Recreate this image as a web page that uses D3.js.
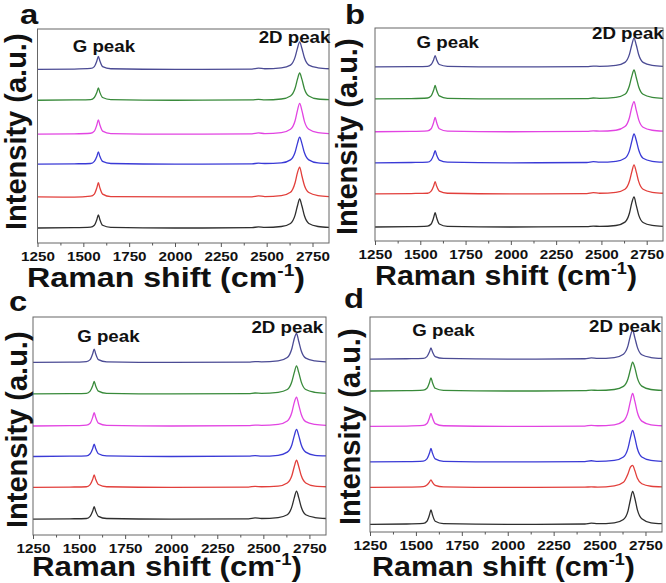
<!DOCTYPE html>
<html>
<head>
<meta charset="utf-8">
<script src="https://cdn.jsdelivr.net/npm/d3@7"></script>
<style>
  body { margin: 0; background: #fff; }
  svg { display: block; font-family: 'Liberation Sans', Arial, sans-serif; }
</style>
</head>
<body>
<svg id="chart" width="666" height="583"></svg>
<script>
// Raman shift sample points (cm-1), shared by every spectrum
const SHIFTS = [1250, 1450, 1540, 1560, 1574, 1582, 1590, 1605, 1650, 2000, 2420, 2455, 2490,
  2580, 2630, 2655, 2668, 2680, 2692, 2706, 2730, 2780, 2840];

const MAJOR_TICKS = [1250, 1500, 1750, 2000, 2250, 2500, 2750];
const MINOR_TICKS = [1375, 1625, 1875, 2125, 2375, 2625];

// bottom -> top: black, red, blue, magenta, green, navy
const COLORS = ['#2e2e2e', '#e23f3b', '#3a3ad6', '#e244e2', '#388a3a', '#4b4b94'];

// intensities (a.u.), one row per spectrum, bottom to top
const panelA = [
  [0.00, 0.01, 0.03, 0.09, 0.28, 0.43, 0.28, 0.09, 0.02, 0.00, 0.01, 0.04, 0.02, 0.05, 0.15, 0.42, 0.73, 0.95, 0.73, 0.40, 0.15, 0.05, 0.02],
  [0.01, 0.00, 0.03, 0.10, 0.31, 0.47, 0.31, 0.10, 0.02, 0.01, 0.01, 0.04, 0.02, 0.05, 0.16, 0.47, 0.80, 0.98, 0.70, 0.38, 0.15, 0.05, 0.02],
  [0.00, 0.01, 0.02, 0.09, 0.26, 0.40, 0.26, 0.09, 0.02, 0.00, 0.01, 0.03, 0.02, 0.04, 0.14, 0.39, 0.68, 0.88, 0.68, 0.37, 0.14, 0.04, 0.02],
  [0.00, 0.01, 0.03, 0.10, 0.31, 0.47, 0.31, 0.10, 0.02, 0.00, 0.01, 0.04, 0.02, 0.05, 0.16, 0.44, 0.78, 1.01, 0.78, 0.42, 0.16, 0.05, 0.02],
  [0.00, 0.01, 0.02, 0.09, 0.26, 0.40, 0.26, 0.09, 0.02, 0.00, 0.01, 0.03, 0.01, 0.04, 0.14, 0.39, 0.69, 0.89, 0.69, 0.37, 0.14, 0.04, 0.02],
  [0.00, 0.01, 0.03, 0.09, 0.28, 0.42, 0.28, 0.09, 0.02, 0.00, 0.01, 0.04, 0.02, 0.05, 0.14, 0.40, 0.69, 0.90, 0.69, 0.38, 0.14, 0.05, 0.02]
];
const panelB = [
  [0.00, 0.01, 0.03, 0.10, 0.31, 0.47, 0.31, 0.10, 0.02, 0.00, 0.01, 0.03, 0.02, 0.05, 0.16, 0.46, 0.80, 0.99, 0.72, 0.39, 0.15, 0.05, 0.02],
  [0.00, 0.01, 0.02, 0.09, 0.26, 0.40, 0.26, 0.09, 0.02, 0.00, 0.01, 0.04, 0.02, 0.05, 0.15, 0.42, 0.73, 0.95, 0.73, 0.40, 0.15, 0.05, 0.02],
  [0.00, 0.01, 0.02, 0.09, 0.26, 0.40, 0.26, 0.09, 0.02, 0.00, 0.01, 0.04, 0.02, 0.05, 0.15, 0.40, 0.71, 0.95, 0.75, 0.42, 0.15, 0.05, 0.02],
  [0.00, 0.01, 0.03, 0.10, 0.31, 0.47, 0.31, 0.10, 0.02, 0.00, 0.01, 0.03, 0.02, 0.05, 0.17, 0.47, 0.81, 0.99, 0.72, 0.39, 0.15, 0.05, 0.02],
  [0.00, 0.01, 0.03, 0.10, 0.29, 0.44, 0.29, 0.10, 0.02, 0.00, 0.01, 0.03, 0.02, 0.05, 0.15, 0.44, 0.75, 0.95, 0.71, 0.39, 0.15, 0.05, 0.02],
  [0.00, 0.01, 0.02, 0.08, 0.24, 0.37, 0.24, 0.08, 0.02, 0.00, 0.01, 0.03, 0.02, 0.05, 0.15, 0.42, 0.73, 0.95, 0.73, 0.40, 0.15, 0.05, 0.02]
];
const panelC = [
  [0.00, 0.01, 0.02, 0.09, 0.26, 0.40, 0.26, 0.09, 0.02, 0.00, 0.01, 0.04, 0.02, 0.05, 0.14, 0.40, 0.69, 0.90, 0.69, 0.38, 0.14, 0.05, 0.02],
  [0.00, 0.01, 0.02, 0.09, 0.26, 0.40, 0.26, 0.09, 0.02, 0.00, 0.01, 0.03, 0.02, 0.04, 0.14, 0.38, 0.67, 0.87, 0.67, 0.37, 0.14, 0.04, 0.02],
  [0.00, 0.01, 0.02, 0.09, 0.26, 0.40, 0.26, 0.09, 0.02, 0.00, 0.01, 0.03, 0.01, 0.04, 0.14, 0.38, 0.67, 0.87, 0.67, 0.37, 0.14, 0.04, 0.02],
  [0.00, 0.01, 0.03, 0.09, 0.28, 0.43, 0.28, 0.09, 0.02, 0.00, 0.01, 0.03, 0.02, 0.05, 0.16, 0.44, 0.76, 0.93, 0.68, 0.37, 0.14, 0.05, 0.02],
  [0.00, 0.01, 0.02, 0.09, 0.26, 0.40, 0.26, 0.09, 0.02, 0.00, 0.01, 0.03, 0.02, 0.05, 0.14, 0.40, 0.69, 0.90, 0.69, 0.38, 0.14, 0.05, 0.02],
  [0.00, 0.01, 0.03, 0.09, 0.28, 0.43, 0.28, 0.09, 0.02, 0.00, 0.01, 0.03, 0.02, 0.05, 0.16, 0.45, 0.77, 0.93, 0.68, 0.37, 0.14, 0.05, 0.02]
];
const panelD = [
  [0.00, 0.01, 0.03, 0.10, 0.31, 0.47, 0.31, 0.10, 0.02, 0.00, 0.01, 0.04, 0.02, 0.05, 0.16, 0.44, 0.80, 1.07, 0.85, 0.47, 0.18, 0.05, 0.02],
  [0.00, 0.01, 0.03, 0.08, 0.18, 0.25, 0.17, 0.07, 0.02, 0.00, 0.01, 0.02, 0.01, 0.05, 0.17, 0.45, 0.66, 0.72, 0.55, 0.30, 0.12, 0.04, 0.02],
  [0.00, 0.01, 0.03, 0.10, 0.29, 0.44, 0.29, 0.10, 0.02, 0.00, 0.01, 0.04, 0.02, 0.05, 0.16, 0.45, 0.79, 1.03, 0.79, 0.43, 0.16, 0.05, 0.02],
  [0.00, 0.01, 0.03, 0.09, 0.28, 0.42, 0.28, 0.09, 0.02, 0.00, 0.01, 0.03, 0.02, 0.05, 0.17, 0.47, 0.82, 1.07, 0.82, 0.45, 0.17, 0.05, 0.02],
  [0.00, 0.01, 0.03, 0.09, 0.28, 0.43, 0.28, 0.09, 0.02, 0.00, 0.01, 0.03, 0.02, 0.05, 0.15, 0.40, 0.70, 0.94, 0.76, 0.42, 0.16, 0.05, 0.02],
  [0.00, 0.01, 0.02, 0.08, 0.24, 0.36, 0.24, 0.08, 0.02, 0.00, 0.01, 0.04, 0.02, 0.05, 0.16, 0.44, 0.76, 0.94, 0.70, 0.38, 0.14, 0.05, 0.02]
];

// vertical stacking offset of each spectrum (a.u.)
const offsetsA = [0.49, 1.50, 2.58, 3.56, 4.67, 5.68];
const offsetsB = [0.46, 1.55, 2.57, 3.59, 4.67, 5.72];
const offsetsC = [0.51, 1.53, 2.52, 3.50, 4.53, 5.54];
const offsetsD = [0.25, 1.45, 2.28, 3.44, 4.59, 5.63];

const X_DOMAIN = [1250, 2840];
const Y_DOMAIN = [0, 7];
const STRETCH = 1.17; // the source figure is squeezed wider than its fonts

// Layout of each panel
const panels = [
  { id: 'a', data: panelA, offsets: offsetsA, box: [37.5, 329, 29, 243],
    letter: [29, 24], gLabel: [1612, 23], dLabel: [2652, 14],
    yTitle: [26, 230], xTitle: [27, 287, 278] },
  { id: 'b', data: panelB, offsets: offsetsB, box: [375, 663, 28, 241],
    letter: [355, 24], gLabel: [1652, 20], dLabel: [2646, 11],
    yTitle: [357, 235], xTitle: [375, 285, 262] },
  { id: 'c', data: panelC, offsets: offsetsC, box: [33, 326, 317, 535],
    letter: [18, 311], gLabel: [1659, 25], dLabel: [2630, 16],
    yTitle: [27, 528], xTitle: [32, 576, 270] },
  { id: 'd', data: panelD, offsets: offsetsD, box: [370, 662, 317, 532],
    letter: [354, 308], gLabel: [1650, 19], dLabel: [2638, 15],
    yTitle: [360, 525], xTitle: [372, 576, 263] }
];

const svg = d3.select('#chart');

function boldText(g, x, y, str, size) {
  return g.append('text')
    .attr('transform', `translate(${x},${y}) scale(${STRETCH},1)`)
    .attr('text-anchor', 'middle')
    .attr('font-size', size)
    .attr('font-weight', 'bold')
    .attr('fill', '#111')
    .text(str);
}

function drawPanel(p) {
  const [x0, x1, y0, y1] = p.box;
  const x = d3.scaleLinear(X_DOMAIN, [x0, x1]);
  const y = d3.scaleLinear(Y_DOMAIN, [y1, y0]);
  const g = svg.append('g').attr('id', `panel-${p.id}`);

  // Spectra
  p.data.forEach((row, i) => {
    const pts = SHIFTS.map((s, j) => [s, row[j] + p.offsets[i]]);
    const line = d3.line()
      .x((d) => x(d[0]))
      .y((d) => y(d[1]))
      .curve(d3.curveMonotoneX);
    g.append('path')
      .attr('d', line(pts))
      .attr('fill', 'none')
      .attr('stroke', COLORS[i])
      .attr('stroke-width', 1.3);
  });

  // Frame
  g.append('rect')
    .attr('x', x0).attr('y', y0)
    .attr('width', x1 - x0).attr('height', y1 - y0)
    .attr('fill', 'none')
    .attr('stroke', '#666')
    .attr('stroke-width', 1);

  // Bottom axis, major + minor ticks
  const major = g.append('g')
    .attr('transform', `translate(0,${y1})`)
    .call(d3.axisBottom(x).tickValues(MAJOR_TICKS).tickFormat(d3.format('d'))
      .tickSize(4).tickSizeOuter(0));
  major.select('.domain').remove();
  major.selectAll('line').attr('stroke', '#555');
  major.selectAll('text')
    .attr('y', 18).attr('dy', 0)
    .attr('transform', `scale(${STRETCH},1)`)
    .attr('font-size', 13)
    .attr('font-weight', 'bold')
    .attr('font-family', "'Liberation Sans', Arial, sans-serif")
    .attr('fill', '#111');

  const minor = g.append('g')
    .attr('transform', `translate(0,${y1})`)
    .call(d3.axisBottom(x).tickValues(MINOR_TICKS).tickSize(2.5).tickFormat(''));
  minor.select('.domain').remove();
  minor.selectAll('line').attr('stroke', '#555');

  // Peak labels
  boldText(g, x(p.gLabel[0]), y0 + p.gLabel[1], 'G peak', 16);
  boldText(g, x(p.dLabel[0]), y0 + p.dLabel[1], '2D peak', 16);

  // Axis titles
  const xt = g.append('text')
    .attr('x', p.xTitle[0]).attr('y', p.xTitle[1])
    .attr('font-size', 27)
    .attr('font-weight', 'bold')
    .attr('fill', '#111')
    .attr('textLength', p.xTitle[2])
    .attr('lengthAdjust', 'spacingAndGlyphs');
  xt.append('tspan').text('Raman shift (cm');
  xt.append('tspan').attr('font-size', 16).attr('dy', -11).text('-1');
  xt.append('tspan').attr('dy', 11).text(')');

  g.append('text')
    .attr('transform', `translate(${p.yTitle[0]},${p.yTitle[1]}) rotate(-90)`)
    .attr('font-size', 29)
    .attr('font-weight', 'bold')
    .attr('fill', '#111')
    .text('Intensity (a.u.)');

  // Panel letter
  boldText(g, p.letter[0], p.letter[1], p.id, 28);
}

panels.forEach(drawPanel);
</script>
</body>
</html>
